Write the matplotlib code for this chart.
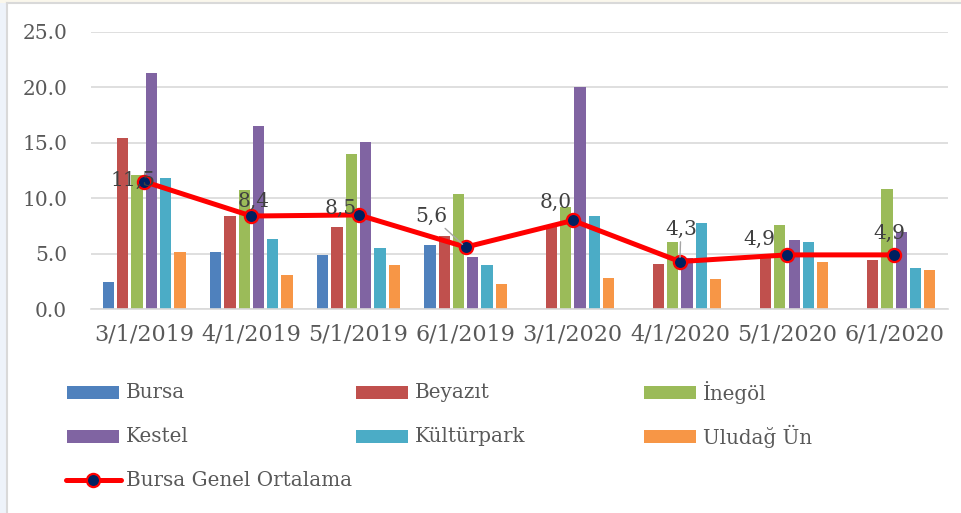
import numpy as np
import matplotlib
matplotlib.use("Agg")
import matplotlib.pyplot as plt
from matplotlib.patches import Rectangle
from matplotlib.lines import Line2D

# ---- data -------------------------------------------------------------
dates = ["3/1/2019", "4/1/2019", "5/1/2019", "6/1/2019",
         "3/1/2020", "4/1/2020", "5/1/2020", "6/1/2020"]
bursa = [2.5, 5.2, 4.9, 5.8, np.nan, np.nan, np.nan, np.nan]
beyazit = [15.4, 8.4, 7.4, 6.6, 7.6, 4.1, 4.8, 4.4]
inegol = [12.1, 10.7, 14.0, 10.4, 9.2, 6.1, 7.6, 10.8]
kestel = [21.3, 16.5, 15.1, 4.7, 20.0, 4.6, 6.2, 7.0]
kulturpark = [11.8, 6.3, 5.5, 4.0, 8.4, 7.8, 6.1, 3.7]
uludag = [5.2, 3.1, 4.0, 2.3, 2.8, 2.7, 4.3, 3.5]
genel = [11.5, 8.4, 8.5, 5.6, 8.0, 4.3, 4.9, 4.9]

station_names = ["Bursa", "Beyazıt", "İnegöl", "Kestel", "Kültürpark", "Uludağ Ün"]
station_values = [bursa, beyazit, inegol, kestel, kulturpark, uludag]
station_colors = ["#4F81BD", "#C0504D", "#9BBB59", "#8064A2", "#4BACC6", "#F79646"]
avg_name = "Bursa Genel Ortalama"

# ---- figure -----------------------------------------------------------
W, H = 961, 513
fig = plt.figure(figsize=(W / 100, H / 100), dpi=100)
fig.patch.set_facecolor("white")
plt.rcParams["font.family"] = ["DejaVu Serif", "DejaVu Sans"]

def fx(px):
    return px / W

def fy(py):
    return 1 - py / H

# outer frame and faint page strip
fig.add_artist(Rectangle((0, 0), fx(7), 1, transform=fig.transFigure,
                         facecolor="#EEF3FA", edgecolor="none", zorder=0))
fig.add_artist(Rectangle((0, fy(3)), 1, fy(0) - fy(3), transform=fig.transFigure,
                         facecolor="#FAF7EC", edgecolor="none", zorder=0))
fig.add_artist(Line2D([fx(7), fx(7)], [0, fy(3)], transform=fig.transFigure,
                      color="#D9D9D9", lw=1.5))
fig.add_artist(Line2D([fx(7), 1], [fy(3), fy(3)], transform=fig.transFigure,
                      color="#D9D9D9", lw=1.5))

left, right, top, bottom = 90.7, 947.7, 31.7, 309.3
ax = fig.add_axes([fx(left), fy(bottom), fx(right - left), (bottom - top) / H])
ax.set_facecolor("none")

x = np.arange(len(dates))
slot = 0.1333
bar_w = 0.105
n = len(station_values)
for i, (vals, col, name) in enumerate(zip(station_values, station_colors, station_names)):
    ax.bar(x + (i - (n - 1) / 2) * slot, vals, width=bar_w, color=col,
           label=name, zorder=2)

ax.plot(x, genel, color="#FF0000", lw=3.6, marker="o", markersize=9.5,
        markerfacecolor="#002060", markeredgecolor="#FF0000",
        markeredgewidth=1.6, zorder=4, solid_capstyle="round")

# value labels on the average line (offsets in pixels)
label_offsets = [(-11, 1), (2, 15), (-18, 7), (-34, 31),
                 (-17, 18), (1, 32), (-28, 15), (-5, 21)]
leader = [False, False, False, True, False, True, False, False]
for xi, v, (dx, dy), ld in zip(x, genel, label_offsets, leader):
    txt = f"{v:.1f}".replace(".", ",")
    kw = {}
    if ld:
        kw["arrowprops"] = dict(arrowstyle="-", color="#A6A6A6", lw=1.0,
                                shrinkA=0, shrinkB=3)
    ax.annotate(txt, (xi, v), xytext=(dx, dy), textcoords="offset pixels",
                ha="center", va="center", fontsize=14.5, color="#404040",
                zorder=5, **kw)

ax.set_xlim(-0.5, len(dates) - 0.5)
ax.set_ylim(0, 25)
ax.set_yticks(np.arange(0, 25.1, 5))
ax.set_yticklabels([f"{t:.1f}" for t in np.arange(0, 25.1, 5)])
ax.set_xticks(x)
ax.set_xticklabels(dates)
ax.yaxis.grid(True, color="#D9D9D9", lw=1.2, zorder=0)
ax.set_axisbelow(True)
for s in ["top", "right", "left"]:
    ax.spines[s].set_visible(False)
ax.spines["bottom"].set_color("#D9D9D9")
ax.spines["bottom"].set_linewidth(1.2)
ax.tick_params(axis="y", length=0, pad=17, labelsize=14.5, labelcolor="#595959")
ax.tick_params(axis="x", length=0, pad=10, labelsize=16, labelcolor="#595959")

# ---- legend (three columns) ------------------------------------------
col_x = [67, 356, 644]
row_y = [392.5, 436.5, 480]
entries = [(station_names[0], station_colors[0], 0, 0),
           (station_names[1], station_colors[1], 1, 0),
           (station_names[2], station_colors[2], 2, 0),
           (station_names[3], station_colors[3], 0, 1),
           (station_names[4], station_colors[4], 1, 1),
           (station_names[5], station_colors[5], 2, 1)]
for name, col, c, r in entries:
    px, py = col_x[c], row_y[r]
    fig.add_artist(Rectangle((fx(px), fy(py + 6.5)), fx(52), 13 / H,
                             transform=fig.transFigure, facecolor=col,
                             edgecolor="none"))
    fig.text(fx(px + 59), fy(py), name, fontsize=14.3, color="#595959",
             ha="left", va="center")

py = row_y[2]
fig.add_artist(Line2D([fx(66), fx(121)], [fy(py), fy(py)], transform=fig.transFigure,
                      color="#FF0000", lw=3.6, solid_capstyle="round"))
fig.add_artist(Line2D([fx(93)], [fy(py)], transform=fig.transFigure,
                      marker="o", markersize=9.5, markerfacecolor="#002060",
                      markeredgecolor="#FF0000", markeredgewidth=1.6, lw=0))
fig.text(fx(126), fy(py), avg_name, fontsize=14.3, color="#595959",
         ha="left", va="center")

fig.savefig("out.png", dpi=100, facecolor=fig.get_facecolor())
